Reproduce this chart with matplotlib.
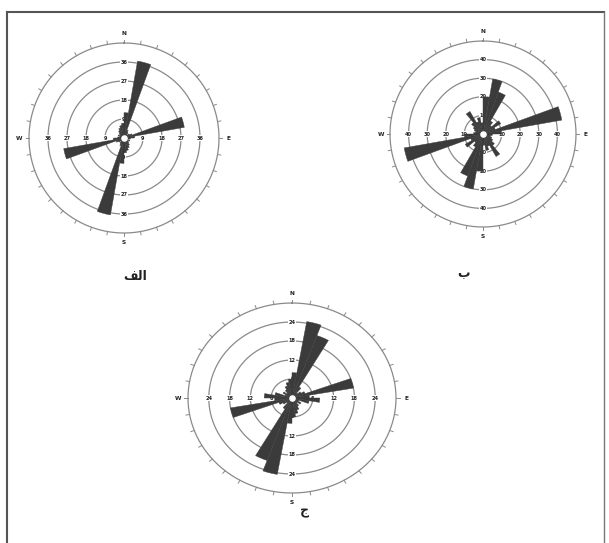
import numpy as np
import matplotlib
matplotlib.use("Agg")
import matplotlib.pyplot as plt

# bidirectional rose data: 10 degree bins from 0 to 180, mirrored to 180-360
bins_deg = np.arange(0, 180, 10)
rose_a = [12, 37, 4, 3, 2, 3, 4, 29, 5, 3, 2, 3, 2, 3, 4, 5, 6, 7]
rose_b = [20, 30, 24, 8, 6, 11, 7, 43, 10, 5, 4, 5, 6, 8, 14, 7, 9, 6]
rose_c = [8, 24.5, 21, 4, 2, 3, 4, 18, 5, 8, 5, 2, 3, 2, 3, 4, 5, 6]

rings_a = [9, 18, 27, 36]
rings_b = [10, 20, 30, 40]
rings_c = [6, 12, 18, 24]
outer_a, outer_b, outer_c = 45, 50, 30

labels = ["الف", "ب", "ج"]
directions = ["N", "E", "S", "W"]

# arabic letter forms: isolated, final, initial, medial
forms = {
    "ا": ("\uFE8D", "\uFE8E", None, None),
    "ل": ("\uFEDD", "\uFEDE", "\uFEDF", "\uFEE0"),
    "ف": ("\uFED1", "\uFED2", "\uFED3", "\uFED4"),
    "ب": ("\uFE8F", "\uFE90", "\uFE91", "\uFE92"),
    "ج": ("\uFE9D", "\uFE9E", "\uFE9F", "\uFEA0"),
}


def shape(s):
    out = []
    for i, ch in enumerate(s):
        f = forms[ch]
        prev_ok = i > 0 and forms[s[i - 1]][2] is not None
        next_ok = i < len(s) - 1 and f[2] is not None
        if prev_ok and next_ok:
            out.append(f[3])
        elif prev_ok:
            out.append(f[1])
        elif next_ok:
            out.append(f[2])
        else:
            out.append(f[0])
    return "".join(reversed(out))


petal_col = "#3b3b3b"
ring_col = "#8a8a8a"


def draw_rose(ax, values, rings, outer):
    ax.set_theta_zero_location("N")
    ax.set_theta_direction(-1)
    ax.grid(False)
    ax.set_xticks([])
    ax.set_yticks([])
    ax.spines["polar"].set_visible(False)
    ax.set_facecolor("none")
    ax.set_ylim(0, outer * 1.2)

    full = np.linspace(0, 2 * np.pi, 361)
    for r in rings + [outer]:
        ax.plot(full, np.full_like(full, r), color=ring_col, lw=0.9, zorder=1)
    # ticks on outer circle
    for d in range(0, 360, 10):
        t = np.deg2rad(d)
        ax.plot([t, t], [outer, outer * 1.035], color=ring_col, lw=0.7, zorder=1)

    # ring labels on the four axes
    for d in [0, 90, 180, 270]:
        for r in rings:
            ax.text(np.deg2rad(d), r, str(r), fontsize=3.6, fontweight="bold",
                    ha="center", va="center", color="#222222", zorder=2,
                    bbox=dict(boxstyle="square,pad=0.15", fc="white", ec="none"))
    for d, lab in zip([0, 90, 180, 270], directions):
        ax.text(np.deg2rad(d), outer * 1.1, lab, fontsize=4.2, fontweight="bold",
                ha="center", va="center", color="#222222")

    theta = np.deg2rad(np.concatenate([bins_deg, bins_deg + 180]) + 5)
    vals = np.concatenate([values, values])
    ax.bar(theta, vals, width=np.deg2rad(10), bottom=0, color=petal_col,
           edgecolor=petal_col, linewidth=0.3, zorder=3)
    ax.scatter([0], [0], s=14, color="white", zorder=4)


W, H = 609, 543
fig = plt.figure(figsize=(W / 100, H / 100), dpi=100)


def add_polar(cx, cy, rx, ry):
    # cx, cy in pixels from top-left, rx/ry outer-ring radius in pixels
    hx, hy = rx * 1.2, ry * 1.2
    ax = fig.add_axes([(cx - hx) / W, (H - cy - hy) / H, 2 * hx / W, 2 * hy / H],
                      projection="polar")
    return ax


ax_a = add_polar(124, 138, 95, 95)
draw_rose(ax_a, rose_a, rings_a, outer_a)
ax_b = add_polar(483, 134, 93, 93)
draw_rose(ax_b, rose_b, rings_b, outer_b)
ax_c = add_polar(292, 398, 104, 95)
draw_rose(ax_c, rose_c, rings_c, outer_c)
ax_c.set_aspect("auto")

for lab, (x, y) in zip(labels, [(135, 276), (463, 274), (305, 511)]):
    fig.text(x / W, 1 - y / H, shape(lab), fontsize=9, fontweight="bold",
             ha="center", va="center", family=["DejaVu Sans"], color="#222222")

# frame around the figure (top, left, right)
fig.add_artist(plt.Line2D([7 / W, 7 / W], [0, 1 - 12 / H], color="#555555", lw=1.5))
fig.add_artist(plt.Line2D([7 / W, 604 / W], [1 - 12 / H, 1 - 12 / H], color="#555555", lw=1.5))
fig.add_artist(plt.Line2D([604 / W, 604 / W], [0, 1 - 12 / H], color="#777777", lw=1.0))

fig.savefig("out.png", dpi=100, facecolor="white")
